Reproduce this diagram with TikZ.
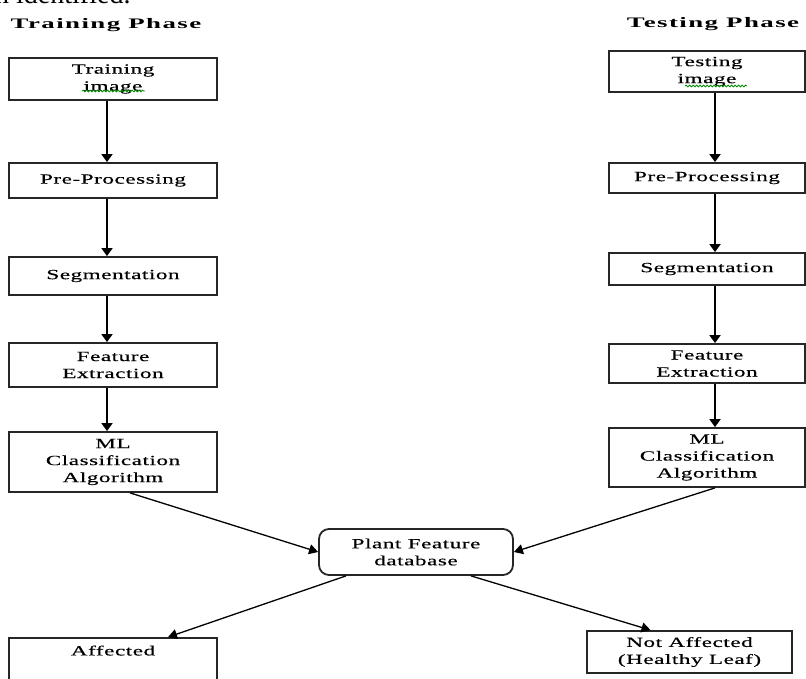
\documentclass[tikz,border=0pt]{standalone}
\usepackage{fontspec}
\setmainfont{Liberation Serif}[FakeStretch=1.65,LetterSpace=4,FakeBold=0.4]
\newfontfamily\phasefont{Liberation Serif}[FakeStretch=1.85,LetterSpace=10]
\newfontfamily\bodyfont{Liberation Serif}
\usetikzlibrary{arrows.meta,decorations.pathmorphing}

\tikzset{
  stepbox/.style={draw=black!85, line width=1.8pt, align=center, inner sep=0pt,
    font=\fontsize{14}{17}\selectfont},
  dbbox/.style={stepbox, rounded corners=10pt},
  phase/.style={font=\phasefont\bfseries\fontsize{14.5}{17}\selectfont},
  arr/.style={line width=1.8pt, -{Triangle[width=11pt,length=8pt]}},
  darr/.style={line width=1.3pt, -{Triangle[width=10pt,length=9pt]}},
  squiggle/.style={green!55!black, line width=0.8pt, decorate,
    decoration={snake,amplitude=0.9pt,segment length=3.5pt}}
}

\begin{document}
\begin{tikzpicture}[x=1pt,y=-1pt]
    \path[use as bounding box] (0,0) rectangle (806,679);
    \node[font=\bodyfont\fontsize{28}{30}\selectfont, anchor=base west, inner sep=0pt] (bodyText) at (-5,4) {n identified.};

    % 训练阶段
    \node[phase] (trainTitle) at (106,25) {Training Phase};
    \node[stepbox, minimum width=208pt, minimum height=42pt] (trainImg) at (113,79) {Training\\image};
    \node[stepbox, minimum width=208pt, minimum height=35pt] (preL) at (113,180.5) {Pre-Processing};
    \node[stepbox, minimum width=208pt, minimum height=38pt] (segL) at (113,276) {Segmentation};
    \node[stepbox, minimum width=208pt, minimum height=44pt] (featL) at (113,365) {Feature\\Extraction};
    \node[stepbox, minimum width=208pt, minimum height=60pt] (mlL) at (113,462) {ML\\Classification\\Algorithm};
    \draw[squiggle] (82,91) -- (145,91);
    \draw[arr] ([xshift=-6pt]trainImg.south) -- ([xshift=-6pt]preL.north);
    \draw[arr] ([xshift=-6pt]preL.south) -- ([xshift=-6pt]segL.north);
    \draw[arr] ([xshift=-6pt]segL.south) -- ([xshift=-6pt]featL.north);
    \draw[arr] ([xshift=-6pt]featL.south) -- ([xshift=-6pt]mlL.north);

    % 测试阶段
    \node[phase] (testTitle) at (713,24) {Testing Phase};
    \node[stepbox, minimum width=196pt, minimum height=41pt] (testImg) at (707,71.5) {Testing\\image};
    \node[stepbox, minimum width=196pt, minimum height=30pt] (preR) at (707,178) {Pre-Processing};
    \node[stepbox, minimum width=196pt, minimum height=32pt] (segR) at (707,269) {Segmentation};
    \node[stepbox, minimum width=196pt, minimum height=39pt] (featR) at (707,363.5) {Feature\\Extraction};
    \node[stepbox, minimum width=196pt, minimum height=59pt] (mlR) at (707,457.5) {ML\\Classification\\Algorithm};
    \draw[squiggle] (685,86) -- (747,86);
    \draw[arr] ([xshift=8pt]testImg.south) -- ([xshift=8pt]preR.north);
    \draw[arr] ([xshift=8pt]preR.south) -- ([xshift=8pt]segR.north);
    \draw[arr] ([xshift=8pt]segR.south) -- ([xshift=8pt]featR.north);
    \draw[arr] ([xshift=8pt]featR.south) -- ([xshift=8pt]mlR.north);

    % 数据库与结果
    \node[dbbox, minimum width=194pt, minimum height=46pt] (plant) at (416,552) {Plant Feature\\database};
    \node[stepbox, minimum width=208pt, minimum height=42pt] (affected) at (113,659) {Affected\\~};
    \node[stepbox, minimum width=205pt, minimum height=42pt] (notAff) at (689.5,652) {Not Affected\\(Healthy Leaf)};
    \draw[darr] ([xshift=17pt]mlL.south) -- (plant.west);
    \draw[darr] ([xshift=8pt]mlR.south) -- (plant.east);
    \draw[darr] ([xshift=-70pt]plant.south) -- ([xshift=55pt]affected.north);
    \draw[darr] ([xshift=55pt]plant.south) -- ([xshift=-39pt]notAff.north);
\end{tikzpicture}
\end{document}
